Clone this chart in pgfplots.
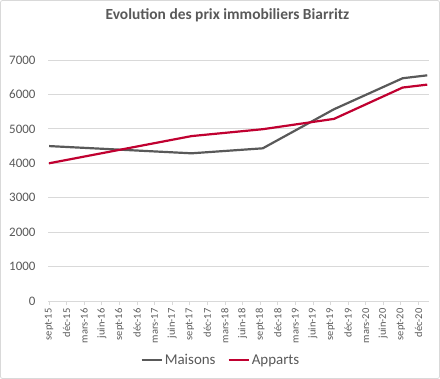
\documentclass[border=0pt]{standalone}
\usepackage{pgfplots}
\pgfplotsset{compat=1.18}
\usepackage{fontspec}
\setmainfont{Carlito}
\definecolor{txt}{HTML}{595959}
\definecolor{gridc}{HTML}{D9D9D9}
\definecolor{maisons}{HTML}{595959}
\definecolor{apparts}{HTML}{C00030}
\begin{document}
\begin{tikzpicture}
\useasboundingbox (0,0) rectangle (440bp,379bp);
\draw[gridc, line width=0.8bp, rounded corners=2bp] (0.5bp,0.5bp) rectangle (439.5bp,378.5bp);
\node[font=\bfseries\fontsize{15.5}{18}\selectfont, text=txt] at (227.5bp,364bp) {Evolution des prix immobiliers Biarritz};
\begin{axis}[
  scale only axis, width=381bp, height=241bp,
  at={(48bp,78bp)}, anchor=south west,
  xmin=-0.06, xmax=21.6, ymin=0, ymax=7000,
  axis x line*=bottom, axis y line*=left,
  x axis line style={gridc, line width=0.8bp, -},
  y axis line style={draw=none},
  ytick={0,1000,...,7000},
  ymajorgrids, grid style={gridc, line width=0.8bp},
  xtick align=outside, xtick style={gridc, line width=0.8bp}, major tick length=4bp,
  ytick style={draw=none},
  xtick={0,...,21},
  xticklabels={sept-15,déc-15,mars-16,juin-16,sept-16,déc-16,mars-17,juin-17,sept-17,déc-17,mars-18,juin-18,sept-18,déc-18,mars-19,juin-19,sept-19,déc-19,mars-20,juin-20,sept-20,déc-20},
  xticklabel style={rotate=90, anchor=east, font=\fontsize{10.5}{12}\selectfont, text=txt},
  yticklabel style={font=\fontsize{13}{15}\selectfont, text=txt, xshift=-9bp},
  /pgf/number format/assume math mode=true,
  scaled y ticks=false,
  yticklabel={\pgfmathprintnumber[fixed,1000 sep={}]{\tick}},
  legend style={at={(0.454,-0.245)}, anchor=center, draw=none, legend columns=2, font=\fontsize{15}{17}\selectfont, text=txt, /tikz/every even column/.append style={column sep=10bp}},
  legend image code/.code={\draw[#1] (0,0) -- (20bp,0);},
  clip=false,
]
\addplot[maisons, line width=2.2bp] coordinates {(0,4500) (8.1,4290) (12.15,4435) (16.2,5570) (20.1,6470) (21.5,6555)};
\addplot[apparts, line width=2.2bp] coordinates {(0,4000) (8.1,4790) (12.15,4990) (16.2,5290) (20.1,6200) (21.5,6285)};
\legend{Maisons, Apparts}
\end{axis}
\end{tikzpicture}
\end{document}
